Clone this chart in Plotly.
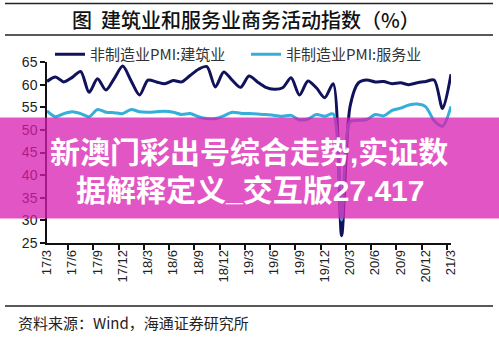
import plotly.graph_objects as go

# Monthly categories, Mar 2017 - Mar 2021
months = [
    "17/3", "17/4", "17/5", "17/6", "17/7", "17/8", "17/9", "17/10", "17/11", "17/12",
    "18/1", "18/2", "18/3", "18/4", "18/5", "18/6", "18/7", "18/8", "18/9", "18/10",
    "18/11", "18/12", "19/1", "19/2", "19/3", "19/4", "19/5", "19/6", "19/7", "19/8",
    "19/9", "19/10", "19/11", "19/12", "20/1", "20/2", "20/3", "20/4", "20/5", "20/6",
    "20/7", "20/8", "20/9", "20/10", "20/11", "20/12", "21/1", "21/2", "21/3",
]

# 非制造业PMI:建筑业
construction = [
    60.7, 61.7, 60.6, 61.6, 62.9, 58.3, 61.3, 58.8, 61.4, 64.1,
    60.8, 57.7, 61.0, 60.6, 60.2, 60.9, 60.6, 62.0, 63.4, 64.0,
    59.5, 62.8, 61.0, 59.4, 61.9, 60.6, 59.4, 59.0, 59.3, 61.5,
    57.7, 60.8, 59.3, 57.1, 60.2, 26.6, 55.1, 60.4, 61.0, 60.6,
    60.7, 60.2, 60.4, 60.0, 60.4, 60.7, 61.0, 54.7, 62.3,
]

# 非制造业PMI:服务业
services = [
    54.2, 52.9, 53.6, 54.0, 53.6, 52.9, 54.5, 53.9, 53.8, 53.6,
    54.5, 54.0, 53.9, 54.0, 54.1, 53.9, 53.4, 53.6, 52.9, 52.5,
    52.5, 53.1, 53.9, 53.7, 53.6, 53.5, 53.4, 53.2, 53.0, 53.2,
    52.2, 52.4, 53.4, 53.0, 53.5, 30.1, 51.8, 52.1, 52.3, 53.4,
    53.1, 54.3, 54.8, 55.5, 55.7, 55.1, 52.0, 50.8, 55.2,
]

tick_labels = months[::3]
y_ticks = [25, 30, 35, 40, 45, 50, 55, 60, 65]

W, H = 499, 338
L, R, T, B = 47, 48, 62, 95
PW, PH = W - L - R, H - T - B


def px_x(x):
    return (x - L) / PW


def px_y(y):
    return (H - B - y) / PH


CJK = "Noto Sans CJK SC"
LAT = "Liberation Sans"

fig = go.Figure()
fig.add_trace(go.Scatter(
    x=months, y=construction, name="非制造业PMI:建筑业", mode="lines",
    legend="legend",
    line=dict(color="#10125C", width=3, shape="spline", smoothing=0.8),
))
fig.add_trace(go.Scatter(
    x=months, y=services, name="非制造业PMI:服务业", mode="lines",
    legend="legend2",
    line=dict(color="#35AEDA", width=3, shape="spline", smoothing=0.8),
))

legend_font = dict(family=CJK, size=15, color="#333")
fig.update_layout(
    width=W, height=H,
    margin=dict(l=L, r=R, t=T, b=B, autoexpand=False),
    paper_bgcolor="white", plot_bgcolor="white",
    showlegend=True,
    legend=dict(
        orientation="h", x=px_x(50), y=px_y(38), xanchor="left", yanchor="top",
        font=legend_font, bgcolor="rgba(0,0,0,0)",
    ),
    legend2=dict(
        orientation="h", x=px_x(246), y=px_y(38), xanchor="left", yanchor="top",
        font=legend_font, bgcolor="rgba(0,0,0,0)",
    ),
    xaxis=dict(
        type="category", tickson="boundaries",
        tickmode="array", tickvals=tick_labels, ticktext=tick_labels,
        tickangle=-90, ticks="outside", ticklen=5, tickcolor="#111", tickwidth=1.5,
        showline=True, linecolor="#111", linewidth=1.5,
        showgrid=False, zeroline=False,
        tickfont=dict(family=LAT, size=13, color="#222"),
    ),
    yaxis=dict(
        range=[25, 65], tickmode="array", tickvals=y_ticks,
        ticks="outside", ticklen=5, tickcolor="#111", tickwidth=1.5,
        showline=True, linecolor="#111", linewidth=1.5,
        showgrid=False, zeroline=False,
        tickfont=dict(family=LAT, size=14, color="#222"),
    ),
)

# Horizontal rules framing title and source
rules = [3.5, 35, 306]
for ry in rules:
    fig.add_shape(type="line", xref="paper", yref="paper",
                  x0=px_x(5), x1=px_x(493), y0=px_y(ry), y1=px_y(ry),
                  line=dict(color="#222", width=1.5))

fig.add_annotation(
    text="图  建筑业和服务业商务活动指数（%）", xref="paper", yref="paper",
    x=px_x(246), y=px_y(20), xanchor="center", yanchor="middle", showarrow=False,
    font=dict(family=CJK, size=20, color="#111", weight=500),
)
fig.add_annotation(
    text="资料来源：Wind，海通证券研究所", xref="paper", yref="paper",
    x=px_x(16), y=px_y(322), xanchor="left", yanchor="middle", showarrow=False,
    font=dict(family=CJK, size=15, color="#222"),
)

# Pink banner across the chart
fig.add_shape(type="rect", xref="paper", yref="paper", layer="above",
              x0=px_x(0), x1=px_x(W), y0=px_y(218.5), y1=px_y(117.5),
              fillcolor="rgba(216,28,176,0.75)", line=dict(width=0))
banner_lines = ["新澳门彩出号综合走势,实证数", "据解释定义_交互版27.417"]
banner_pos = [(249, 152), (250, 190)]
for txt, (bx, by) in zip(banner_lines, banner_pos):
    fig.add_annotation(
        text=txt, xref="paper", yref="paper",
        x=px_x(bx), y=px_y(by), xanchor="center", yanchor="middle", showarrow=False,
        font=dict(family=f"{LAT}, {CJK}", size=30, color="white", weight="bold"),
    )

fig.write_html("out.html")
